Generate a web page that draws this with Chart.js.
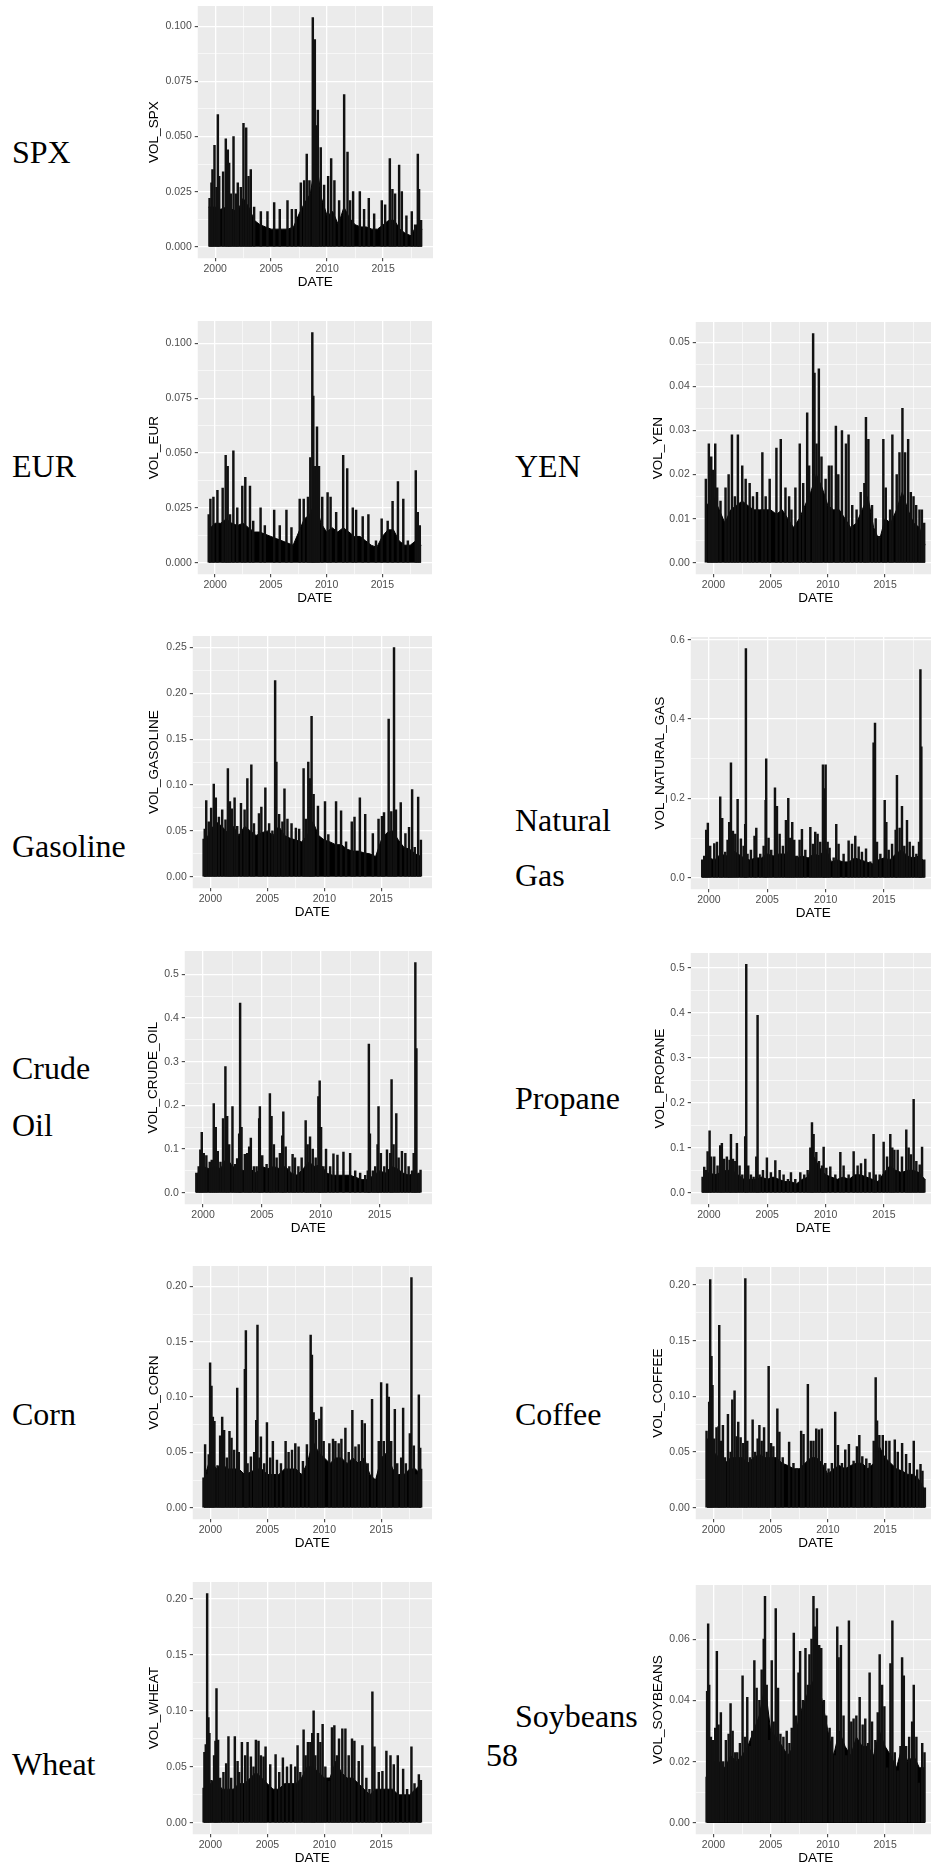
<!DOCTYPE html>
<html>
<head>
<meta charset="utf-8">
<script src="https://cdn.jsdelivr.net/npm/chart.js@4.4.0/dist/chart.umd.min.js"></script>
<style>
html, body { margin:0; padding:0; background:#fff; width:931px; height:1867px; overflow:hidden; }
body { position:relative; }
.lbl { position:absolute; font-family:"Liberation Serif","Times New Roman",serif; font-size:32px; line-height:1; color:#000; white-space:nowrap; }
canvas { position:absolute; }
</style>
</head>
<body>
<script>
var bandYears = [1999.4,2000,2000.5,2001,2001.5,2002,2002.5,2003,2003.5,2004,2004.5,2005,2005.5,2006,2006.5,2007,2007.5,2008,2008.5,2009,2009.5,2010,2010.5,2011,2011.5,2012,2012.5,2013,2013.5,2014,2014.5,2015,2015.5,2016,2016.5,2017,2017.5,2018,2018.5]
var xMajor = [2000,2005,2010,2015]
var xMinor = [2002.5,2007.5,2012.5,2017.5]

var spxBand = [0.018,0.018,0.017,0.018,0.017,0.016,0.022,0.018,0.012,0.010,0.009,0.008,0.008,0.008,0.008,0.009,0.015,0.020,0.024,0.040,0.022,0.014,0.016,0.010,0.018,0.013,0.010,0.009,0.009,0.008,0.008,0.010,0.012,0.012,0.008,0.006,0.005,0.010,0.008]
var spxSpikes = [[1999.5,0.022],[1999.67,0.029],[1999.76,0.035],[1999.94,0.046],[2000.12,0.027],[2000.24,0.060],[2000.36,0.032],[2000.71,0.034],[2000.95,0.049],[2001.13,0.044],[2001.25,0.038],[2001.4,0.024],[2001.64,0.050],[2001.85,0.024],[2002.02,0.029],[2002.29,0.027],[2002.53,0.056],[2002.77,0.054],[2002.98,0.032],[2003.18,0.035],[2003.48,0.018],[2004.08,0.016],[2004.67,0.016],[2005.27,0.020],[2005.77,0.017],[2006.46,0.021],[2006.85,0.017],[2007.2,0.017],[2007.65,0.029],[2007.95,0.030],[2008.18,0.042],[2008.42,0.030],[2008.72,0.104],[2008.9,0.094],[2009.05,0.055],[2009.17,0.062],[2009.43,0.045],[2009.73,0.028],[2010.09,0.032],[2010.36,0.040],[2010.65,0.030],[2011.07,0.021],[2011.52,0.069],[2011.82,0.043],[2012.05,0.021],[2012.32,0.025],[2012.92,0.025],[2013.3,0.017],[2013.72,0.022],[2014.2,0.015],[2014.88,0.021],[2015.18,0.019],[2015.6,0.040],[2015.83,0.026],[2016.07,0.024],[2016.43,0.037],[2016.67,0.025],[2017.08,0.014],[2017.56,0.016],[2017.86,0.010],[2018.1,0.042],[2018.21,0.026],[2018.39,0.012]]
var spxTicks = [0,0.025,0.05,0.075,0.1]

var eurBand = [0.015,0.018,0.018,0.020,0.018,0.017,0.018,0.016,0.014,0.014,0.013,0.012,0.011,0.010,0.009,0.008,0.014,0.020,0.022,0.028,0.018,0.014,0.016,0.014,0.016,0.014,0.012,0.012,0.010,0.008,0.007,0.012,0.015,0.015,0.010,0.008,0.008,0.010,0.008]
var eurSpikes = [[1999.43,0.022],[1999.58,0.029],[1999.85,0.030],[2000.21,0.033],[2000.68,0.034],[2000.95,0.049],[2001.13,0.044],[2001.34,0.022],[2001.64,0.051],[2001.99,0.025],[2002.44,0.035],[2002.71,0.039],[2003.13,0.035],[2003.42,0.019],[2004.08,0.025],[2004.46,0.017],[2005.3,0.024],[2005.8,0.017],[2006.4,0.024],[2006.85,0.016],[2007.59,0.029],[2007.95,0.029],[2008.33,0.030],[2008.54,0.048],[2008.72,0.105],[2008.81,0.076],[2008.96,0.044],[2009.14,0.062],[2009.32,0.044],[2009.61,0.030],[2010.09,0.032],[2010.36,0.030],[2010.86,0.023],[2011.49,0.049],[2011.85,0.043],[2012.35,0.025],[2012.65,0.024],[2013.24,0.021],[2013.75,0.022],[2014.43,0.010],[2014.94,0.020],[2015.48,0.019],[2015.92,0.028],[2016.4,0.037],[2016.88,0.029],[2017.29,0.010],[2018.0,0.042],[2018.18,0.023],[2018.36,0.017]]
var eurTicks = [0,0.025,0.05,0.075,0.1]

var yenBand = [0.013,0.015,0.012,0.009,0.012,0.013,0.014,0.013,0.012,0.012,0.012,0.012,0.011,0.012,0.010,0.008,0.010,0.013,0.016,0.020,0.017,0.013,0.012,0.012,0.010,0.008,0.009,0.012,0.015,0.008,0.005,0.010,0.009,0.012,0.016,0.012,0.009,0.008,0.004]
var yenSpikes = [[1999.33,0.019],[1999.59,0.027],[1999.8,0.024],[1999.94,0.021],[2000.15,0.027],[2000.32,0.017],[2000.61,0.014],[2001.05,0.017],[2001.32,0.020],[2001.61,0.029],[2001.87,0.015],[2002.13,0.029],[2002.51,0.022],[2002.81,0.019],[2003.16,0.018],[2003.45,0.015],[2003.8,0.016],[2004.27,0.025],[2004.56,0.015],[2004.91,0.019],[2005.5,0.026],[2005.88,0.028],[2006.29,0.017],[2006.61,0.015],[2006.81,0.012],[2007.16,0.017],[2007.54,0.027],[2007.84,0.018],[2008.19,0.034],[2008.36,0.022],[2008.71,0.052],[2008.83,0.043],[2009.01,0.027],[2009.21,0.044],[2009.44,0.024],[2009.8,0.019],[2010.09,0.022],[2010.32,0.022],[2010.7,0.031],[2010.91,0.020],[2011.23,0.030],[2011.58,0.027],[2011.81,0.029],[2012.13,0.013],[2012.51,0.012],[2012.87,0.016],[2013.19,0.018],[2013.33,0.033],[2013.54,0.028],[2013.86,0.013],[2014.18,0.010],[2014.47,0.006],[2014.85,0.028],[2015.06,0.017],[2015.44,0.012],[2015.64,0.029],[2016.02,0.020],[2016.26,0.025],[2016.52,0.035],[2016.75,0.025],[2017.02,0.028],[2017.25,0.016],[2017.49,0.015],[2017.72,0.013],[2018.01,0.012],[2018.22,0.012],[2018.42,0.009]]
var yenTicks = [0,0.01,0.02,0.03,0.04,0.05]

var gasolineBand = [0.035,0.050,0.060,0.055,0.048,0.055,0.045,0.055,0.050,0.045,0.048,0.050,0.045,0.055,0.045,0.042,0.040,0.038,0.045,0.060,0.045,0.040,0.038,0.035,0.035,0.030,0.028,0.028,0.026,0.025,0.022,0.040,0.048,0.050,0.040,0.032,0.030,0.025,0.022]
var gasolineSpikes = [[1999.4,0.041],[1999.5,0.052],[1999.63,0.083],[1999.85,0.060],[2000.06,0.075],[2000.29,0.101],[2000.47,0.086],[2000.74,0.065],[2001.03,0.073],[2001.32,0.062],[2001.53,0.118],[2001.71,0.082],[2001.88,0.074],[2002.12,0.086],[2002.35,0.055],[2002.68,0.080],[2003.0,0.073],[2003.24,0.107],[2003.59,0.122],[2003.82,0.058],[2004.26,0.069],[2004.47,0.076],[2004.82,0.097],[2005.15,0.058],[2005.44,0.050],[2005.68,0.214],[2005.79,0.125],[2006.03,0.068],[2006.32,0.060],[2006.5,0.096],[2006.76,0.063],[2007.12,0.058],[2007.5,0.053],[2007.79,0.052],[2008.18,0.118],[2008.38,0.063],[2008.59,0.125],[2008.76,0.107],[2008.88,0.175],[2009.06,0.090],[2009.44,0.077],[2010.06,0.082],[2010.35,0.046],[2011.03,0.082],[2011.47,0.072],[2011.91,0.038],[2012.41,0.060],[2012.65,0.065],[2013.12,0.086],[2013.59,0.068],[2014.26,0.047],[2014.76,0.063],[2015.06,0.066],[2015.24,0.070],[2015.65,0.172],[2015.88,0.071],[2016.12,0.250],[2016.29,0.073],[2016.71,0.081],[2017.12,0.047],[2017.44,0.054],[2017.71,0.095],[2017.94,0.032],[2018.24,0.087],[2018.48,0.040]]
var gasolineTicks = [0,0.05,0.1,0.15,0.2,0.25]

var natgasBand = [0.040,0.050,0.045,0.060,0.055,0.070,0.060,0.050,0.045,0.050,0.050,0.060,0.055,0.060,0.060,0.070,0.050,0.055,0.050,0.060,0.055,0.075,0.040,0.045,0.040,0.040,0.050,0.045,0.040,0.035,0.045,0.050,0.045,0.060,0.070,0.055,0.050,0.055,0.040]
var natgasSpikes = [[1999.43,0.045],[1999.6,0.055],[1999.77,0.120],[1999.91,0.138],[2000.11,0.080],[2000.46,0.086],[2000.69,0.090],[2000.97,0.204],[2001.14,0.150],[2001.4,0.065],[2001.6,0.095],[2001.74,0.140],[2001.89,0.290],[2002.06,0.118],[2002.26,0.110],[2002.46,0.198],[2002.74,0.098],[2002.97,0.080],[2003.11,0.135],[2003.17,0.578],[2003.31,0.060],[2003.6,0.070],[2003.91,0.105],[2004.06,0.125],[2004.4,0.060],[2004.69,0.080],[2004.86,0.195],[2004.91,0.300],[2005.11,0.100],[2005.34,0.070],[2005.66,0.227],[2005.83,0.180],[2006.06,0.110],[2006.34,0.080],[2006.6,0.145],[2006.8,0.200],[2006.97,0.100],[2007.14,0.140],[2007.31,0.095],[2007.54,0.055],[2007.77,0.095],[2007.97,0.122],[2008.26,0.070],[2008.69,0.127],[2008.91,0.085],[2009.11,0.115],[2009.31,0.110],[2009.54,0.090],[2009.77,0.285],[2009.89,0.225],[2010.0,0.285],[2010.17,0.090],[2010.34,0.075],[2010.69,0.050],[2010.91,0.135],[2011.11,0.085],[2011.54,0.060],[2011.97,0.093],[2012.26,0.085],[2012.54,0.105],[2012.83,0.078],[2013.11,0.065],[2013.46,0.073],[2013.83,0.040],[2014.11,0.340],[2014.23,0.390],[2014.4,0.090],[2014.69,0.060],[2015.06,0.195],[2015.2,0.140],[2015.4,0.070],[2015.69,0.085],[2016.0,0.120],[2016.11,0.258],[2016.34,0.125],[2016.54,0.180],[2016.74,0.080],[2016.97,0.145],[2017.2,0.090],[2017.49,0.080],[2017.77,0.060],[2018.0,0.090],[2018.12,0.525],[2018.2,0.330],[2018.45,0.045]]
var natgasTicks = [0,0.2,0.4,0.6]

var crudeBand = [0.040,0.060,0.055,0.060,0.055,0.080,0.060,0.055,0.050,0.055,0.045,0.060,0.055,0.060,0.055,0.060,0.045,0.040,0.055,0.070,0.060,0.065,0.045,0.040,0.040,0.040,0.040,0.035,0.030,0.030,0.040,0.050,0.045,0.060,0.055,0.045,0.040,0.045,0.040]
var crudeSpikes = [[1999.43,0.045],[1999.63,0.060],[1999.77,0.098],[1999.89,0.138],[2000.06,0.090],[2000.28,0.085],[2000.57,0.070],[2000.74,0.075],[2000.91,0.204],[2001.08,0.150],[2001.25,0.095],[2001.48,0.070],[2001.7,0.170],[2001.9,0.289],[2002.05,0.175],[2002.22,0.110],[2002.5,0.197],[2002.73,0.065],[2002.9,0.078],[2003.07,0.135],[2003.15,0.434],[2003.27,0.150],[2003.55,0.088],[2003.75,0.090],[2003.92,0.105],[2004.06,0.125],[2004.32,0.060],[2004.55,0.060],[2004.77,0.170],[2004.83,0.197],[2005.03,0.085],[2005.4,0.065],[2005.68,0.227],[2005.82,0.175],[2006.02,0.110],[2006.25,0.080],[2006.53,0.090],[2006.73,0.130],[2006.82,0.185],[2007.02,0.105],[2007.33,0.060],[2007.61,0.088],[2007.81,0.080],[2008.1,0.060],[2008.38,0.080],[2008.72,0.165],[2008.89,0.110],[2009.09,0.128],[2009.32,0.100],[2009.57,0.080],[2009.8,0.220],[2009.91,0.256],[2010.03,0.150],[2010.23,0.060],[2010.45,0.100],[2010.8,0.060],[2011.08,0.089],[2011.42,0.086],[2011.93,0.093],[2012.5,0.090],[2012.93,0.050],[2013.35,0.045],[2013.78,0.040],[2014.0,0.050],[2014.09,0.340],[2014.18,0.135],[2014.43,0.050],[2014.63,0.060],[2014.83,0.110],[2014.91,0.197],[2015.11,0.090],[2015.4,0.060],[2015.63,0.098],[2015.91,0.090],[2016.02,0.259],[2016.19,0.110],[2016.42,0.181],[2016.62,0.080],[2016.9,0.095],[2017.19,0.090],[2017.47,0.060],[2017.76,0.050],[2017.9,0.090],[2018.04,0.527],[2018.13,0.330],[2018.32,0.045],[2018.48,0.052]]
var crudeTicks = [0,0.1,0.2,0.3,0.4,0.5]

var propaneBand = [0.030,0.045,0.040,0.045,0.050,0.050,0.040,0.030,0.030,0.030,0.035,0.030,0.035,0.030,0.025,0.025,0.020,0.030,0.035,0.080,0.055,0.040,0.035,0.030,0.035,0.030,0.040,0.040,0.035,0.030,0.025,0.045,0.060,0.050,0.045,0.050,0.050,0.045,0.030]
var propaneSpikes = [[1999.46,0.035],[1999.6,0.057],[1999.77,0.050],[1999.89,0.092],[2000.06,0.138],[2000.2,0.080],[2000.46,0.080],[2000.74,0.060],[2000.97,0.105],[2001.11,0.110],[2001.31,0.075],[2001.54,0.080],[2001.77,0.073],[2001.89,0.130],[2002.06,0.075],[2002.26,0.070],[2002.4,0.110],[2002.63,0.060],[2002.86,0.040],[2003.11,0.125],[2003.2,0.508],[2003.37,0.060],[2003.6,0.040],[2003.83,0.035],[2004.06,0.080],[2004.17,0.395],[2004.34,0.040],[2004.63,0.050],[2004.97,0.078],[2005.31,0.045],[2005.69,0.072],[2006.06,0.050],[2006.4,0.040],[2006.77,0.030],[2007.03,0.045],[2007.4,0.030],[2007.83,0.045],[2008.17,0.040],[2008.46,0.050],[2008.69,0.100],[2008.83,0.156],[2008.97,0.130],[2009.2,0.090],[2009.43,0.070],[2009.69,0.060],[2009.83,0.102],[2010.06,0.055],[2010.4,0.058],[2010.83,0.040],[2011.26,0.090],[2011.54,0.060],[2011.97,0.040],[2012.4,0.092],[2012.74,0.060],[2013.03,0.065],[2013.4,0.075],[2013.77,0.045],[2014.11,0.130],[2014.29,0.040],[2014.63,0.040],[2014.97,0.113],[2015.26,0.080],[2015.54,0.130],[2015.71,0.100],[2015.89,0.095],[2016.17,0.095],[2016.54,0.080],[2016.91,0.140],[2017.11,0.100],[2017.31,0.085],[2017.54,0.208],[2017.77,0.070],[2018.06,0.062],[2018.26,0.102],[2018.46,0.030]]
var propaneTicks = [0,0.1,0.2,0.3,0.4,0.5]

var cornBand = [0.025,0.045,0.035,0.040,0.035,0.035,0.035,0.030,0.032,0.035,0.035,0.030,0.030,0.030,0.035,0.035,0.035,0.030,0.040,0.060,0.050,0.045,0.040,0.045,0.045,0.040,0.045,0.040,0.045,0.030,0.025,0.045,0.050,0.035,0.030,0.030,0.035,0.035,0.030]
var cornSpikes = [[1999.39,0.027],[1999.53,0.057],[1999.68,0.030],[1999.85,0.048],[1999.97,0.131],[2000.09,0.110],[2000.21,0.082],[2000.35,0.078],[2000.62,0.038],[2000.85,0.065],[2001.03,0.082],[2001.2,0.070],[2001.44,0.045],[2001.67,0.069],[2001.85,0.063],[2002.08,0.052],[2002.35,0.108],[2002.49,0.050],[2002.7,0.032],[2003.02,0.125],[2003.11,0.160],[2003.26,0.040],[2003.55,0.046],[2003.84,0.050],[2004.02,0.079],[2004.13,0.165],[2004.31,0.045],[2004.43,0.064],[2004.72,0.040],[2004.96,0.077],[2005.25,0.045],[2005.48,0.060],[2005.84,0.043],[2006.19,0.040],[2006.6,0.060],[2006.86,0.050],[2007.16,0.052],[2007.45,0.058],[2007.74,0.055],[2008.12,0.042],[2008.47,0.057],[2008.8,0.156],[2008.91,0.138],[2009.06,0.086],[2009.27,0.079],[2009.56,0.080],[2009.74,0.091],[2009.94,0.060],[2010.44,0.058],[2010.76,0.062],[2010.97,0.060],[2011.26,0.058],[2011.5,0.062],[2011.85,0.072],[2012.14,0.050],[2012.46,0.088],[2012.73,0.055],[2013.02,0.057],[2013.31,0.079],[2013.55,0.076],[2013.81,0.040],[2014.19,0.098],[2014.43,0.025],[2014.78,0.060],[2014.99,0.113],[2015.22,0.060],[2015.51,0.112],[2015.66,0.100],[2015.87,0.060],[2016.19,0.089],[2016.4,0.040],[2016.75,0.045],[2016.92,0.090],[2017.16,0.040],[2017.51,0.067],[2017.65,0.208],[2017.86,0.056],[2018.09,0.030],[2018.3,0.102],[2018.42,0.054],[2018.5,0.035]]
var cornTicks = [0,0.05,0.1,0.15,0.2]

var coffeeBand = [0.045,0.050,0.045,0.040,0.045,0.045,0.045,0.040,0.045,0.048,0.045,0.045,0.045,0.040,0.038,0.035,0.035,0.040,0.045,0.045,0.040,0.030,0.035,0.038,0.035,0.038,0.040,0.040,0.035,0.040,0.055,0.045,0.040,0.035,0.033,0.030,0.030,0.025,0.015]
var coffeeSpikes = [[1999.39,0.069],[1999.53,0.062],[1999.62,0.095],[1999.71,0.205],[1999.82,0.136],[1999.91,0.110],[2000.06,0.062],[2000.26,0.072],[2000.44,0.073],[2000.5,0.164],[2000.64,0.060],[2000.82,0.074],[2000.99,0.045],[2001.26,0.084],[2001.49,0.050],[2001.64,0.097],[2001.84,0.105],[2002.02,0.064],[2002.16,0.077],[2002.37,0.063],[2002.6,0.058],[2002.78,0.206],[2002.95,0.060],[2003.19,0.045],[2003.42,0.079],[2003.63,0.050],[2003.86,0.062],[2004.01,0.074],[2004.21,0.060],[2004.42,0.072],[2004.65,0.050],[2004.82,0.127],[2005.03,0.058],[2005.23,0.055],[2005.58,0.089],[2005.76,0.068],[2006.05,0.045],[2006.61,0.059],[2006.99,0.040],[2007.28,0.035],[2007.66,0.069],[2007.87,0.066],[2008.25,0.111],[2008.51,0.060],[2008.74,0.060],[2008.98,0.071],[2009.21,0.070],[2009.47,0.071],[2009.77,0.040],[2010.06,0.035],[2010.35,0.040],[2010.64,0.086],[2010.88,0.056],[2011.23,0.040],[2011.52,0.052],[2011.84,0.057],[2012.25,0.042],[2012.54,0.055],[2012.75,0.065],[2013.01,0.046],[2013.36,0.044],[2013.65,0.040],[2014.01,0.060],[2014.18,0.117],[2014.3,0.078],[2014.5,0.065],[2014.8,0.065],[2015.09,0.060],[2015.38,0.060],[2015.85,0.061],[2016.11,0.050],[2016.49,0.058],[2016.84,0.048],[2017.16,0.040],[2017.51,0.060],[2017.81,0.034],[2018.1,0.039],[2018.27,0.033],[2018.48,0.018]]
var coffeeTicks = [0,0.05,0.1,0.15,0.2]

var wheatBand = [0.030,0.035,0.040,0.030,0.030,0.030,0.035,0.035,0.040,0.045,0.040,0.035,0.030,0.030,0.035,0.035,0.035,0.040,0.050,0.050,0.045,0.040,0.040,0.055,0.045,0.040,0.040,0.035,0.030,0.025,0.030,0.030,0.030,0.030,0.025,0.025,0.025,0.030,0.035]
var wheatSpikes = [[1999.4,0.031],[1999.47,0.063],[1999.59,0.070],[1999.71,0.205],[1999.82,0.094],[1999.91,0.080],[2000.09,0.038],[2000.32,0.060],[2000.44,0.073],[2000.53,0.120],[2000.67,0.074],[2000.85,0.040],[2001.14,0.045],[2001.38,0.053],[2001.58,0.077],[2001.82,0.040],[2002.14,0.077],[2002.38,0.055],[2002.52,0.045],[2002.76,0.072],[2003.05,0.060],[2003.26,0.072],[2003.55,0.059],[2003.78,0.050],[2003.99,0.074],[2004.22,0.073],[2004.43,0.060],[2004.66,0.059],[2004.84,0.068],[2005.25,0.052],[2005.72,0.061],[2006.04,0.045],[2006.36,0.058],[2006.72,0.050],[2007.07,0.052],[2007.45,0.050],[2007.65,0.069],[2007.89,0.045],[2008.18,0.083],[2008.36,0.060],[2008.56,0.072],[2008.77,0.072],[2008.94,0.080],[2009.06,0.100],[2009.21,0.060],[2009.44,0.080],[2009.65,0.072],[2009.85,0.088],[2010.09,0.050],[2010.41,0.037],[2010.67,0.085],[2010.88,0.087],[2011.11,0.060],[2011.29,0.075],[2011.58,0.084],[2011.85,0.084],[2012.14,0.060],[2012.43,0.075],[2012.64,0.073],[2013.02,0.055],[2013.34,0.069],[2013.69,0.040],[2013.96,0.030],[2014.22,0.117],[2014.4,0.068],[2014.78,0.045],[2015.1,0.046],[2015.45,0.064],[2015.81,0.060],[2016.1,0.052],[2016.45,0.060],[2016.92,0.048],[2017.27,0.030],[2017.65,0.068],[2017.92,0.035],[2018.3,0.043],[2018.48,0.038]]
var wheatTicks = [0,0.05,0.1,0.15,0.2]

var soybeansBand = [0.022,0.020,0.020,0.018,0.022,0.020,0.022,0.025,0.030,0.035,0.045,0.030,0.028,0.025,0.022,0.025,0.035,0.040,0.045,0.048,0.040,0.030,0.022,0.030,0.025,0.022,0.028,0.025,0.025,0.022,0.030,0.025,0.022,0.018,0.025,0.020,0.022,0.018,0.018]
var soybeansSpikes = [[1999.4,0.015],[1999.44,0.043],[1999.53,0.065],[1999.62,0.045],[1999.77,0.028],[1999.97,0.027],[2000.15,0.031],[2000.29,0.056],[2000.44,0.032],[2000.64,0.036],[2000.85,0.020],[2001.08,0.027],[2001.32,0.029],[2001.49,0.039],[2001.67,0.030],[2001.9,0.023],[2002.08,0.023],[2002.31,0.026],[2002.54,0.048],[2002.75,0.028],[2002.95,0.041],[2003.19,0.025],[2003.39,0.030],[2003.57,0.053],[2003.77,0.044],[2004.01,0.040],[2004.21,0.050],[2004.39,0.060],[2004.5,0.074],[2004.65,0.045],[2004.85,0.027],[2005.09,0.053],[2005.26,0.033],[2005.44,0.070],[2005.64,0.044],[2005.85,0.029],[2006.11,0.028],[2006.4,0.030],[2006.64,0.026],[2006.84,0.031],[2007.02,0.062],[2007.22,0.035],[2007.43,0.049],[2007.57,0.056],[2007.81,0.040],[2008.04,0.057],[2008.25,0.045],[2008.39,0.055],[2008.57,0.060],[2008.74,0.074],[2008.89,0.064],[2009.04,0.070],[2009.24,0.058],[2009.42,0.057],[2009.65,0.040],[2009.85,0.035],[2010.15,0.031],[2010.38,0.028],[2010.64,0.022],[2010.82,0.064],[2010.94,0.054],[2011.14,0.058],[2011.37,0.035],[2011.61,0.022],[2011.84,0.066],[2012.05,0.033],[2012.25,0.034],[2012.49,0.035],[2012.78,0.041],[2013.04,0.032],[2013.27,0.034],[2013.51,0.026],[2013.65,0.049],[2013.86,0.033],[2014.15,0.027],[2014.36,0.036],[2014.53,0.055],[2014.74,0.045],[2014.94,0.038],[2015.18,0.018],[2015.47,0.052],[2015.64,0.066],[2015.85,0.023],[2016.11,0.017],[2016.35,0.025],[2016.49,0.054],[2016.64,0.048],[2016.84,0.025],[2017.11,0.028],[2017.37,0.033],[2017.51,0.045],[2017.74,0.028],[2017.95,0.013],[2018.25,0.026],[2018.45,0.023]]
var soybeansTicks = [0,0.02,0.04,0.06]

// panel boxes [left, top, right, bottom] in page pixels, and where the y title sits
var panels = [
  {title:"VOL_SPX", band:spxBand, spikes:spxSpikes, ticks:spxTicks, dec:3, box:[198,6,433,258], tx:155},
  {title:"VOL_EUR", band:eurBand, spikes:eurSpikes, ticks:eurTicks, dec:3, box:[198,321,432,574], tx:155},
  {title:"VOL_YEN", band:yenBand, spikes:yenSpikes, ticks:yenTicks, dec:2, box:[696,322,936,574], tx:659},
  {title:"VOL_GASOLINE", band:gasolineBand, spikes:gasolineSpikes, ticks:gasolineTicks, dec:2, box:[193,636,432,888], tx:155},
  {title:"VOL_NATURAL_GAS", band:natgasBand, spikes:natgasSpikes, ticks:natgasTicks, dec:1, box:[691,637,936,889], tx:661},
  {title:"VOL_CRUDE_OIL", band:crudeBand, spikes:crudeSpikes, ticks:crudeTicks, dec:1, box:[185,951,432,1204], tx:154},
  {title:"VOL_PROPANE", band:propaneBand, spikes:propaneSpikes, ticks:propaneTicks, dec:1, box:[691,953,936,1204], tx:661},
  {title:"VOL_CORN", band:cornBand, spikes:cornSpikes, ticks:cornTicks, dec:2, box:[193,1266,432,1519], tx:155},
  {title:"VOL_COFFEE", band:coffeeBand, spikes:coffeeSpikes, ticks:coffeeTicks, dec:2, box:[696,1267,936,1519], tx:659},
  {title:"VOL_WHEAT", band:wheatBand, spikes:wheatSpikes, ticks:wheatTicks, dec:2, box:[193,1582,432,1834], tx:155},
  {title:"VOL_SOYBEANS", band:soybeansBand, spikes:soybeansSpikes, ticks:soybeansTicks, dec:2, box:[696,1585,936,1834], tx:659}
]

// page labels: text, left, baseline
var labels = [
  ["SPX",12,163],["EUR",12,477],["YEN",515,477],["Gasoline",12,857],["Natural",515,831],["Gas",515,886],
  ["Crude",12,1079],["Oil",12,1136],["Propane",515,1109],["Corn",12,1425],["Coffee",515,1425],
  ["Wheat",12,1775],["Soybeans",515,1727],["58",486,1766]
]

labels.forEach(function(l){
  var d = document.createElement("div")
  d.className = "lbl"
  d.textContent = l[0]
  d.style.left = l[1] + "px"
  d.style.top = (l[2] - 27) + "px"
  document.body.appendChild(d)
})

var TITLE = 13.5
var AXFONT = "Liberation Sans"

// gray ggplot panel behind the grid
var panelBg = {
  id: "panelBg",
  beforeDraw: function(chart){
    var a = chart.chartArea, ctx = chart.ctx
    ctx.save()
    ctx.fillStyle = "#ebebeb"
    ctx.fillRect(a.left, a.top, a.right - a.left, a.bottom - a.top)
    ctx.restore()
  }
}

var xSpan = bandYears[bandYears.length-1] - bandYears[0]
var xMin = bandYears[0] - 0.05*xSpan
var xMax = bandYears[bandYears.length-1] + 0.05*xSpan
var xAll = xMajor.concat(xMinor).sort(function(a,b){return a-b})

function makePanel(p){
  var pl = p.box[0], pt = p.box[1], pr = p.box[2], pb = p.box[3]
  var padTop = 12
  var cl = p.tx - TITLE/2
  var ct = pt - padTop
  var cb = pb + 24 + TITLE/2
  var w = Math.round(pr - cl), h = Math.round(cb - ct)

  var cv = document.createElement("canvas")
  cv.width = w; cv.height = h
  cv.style.left = cl + "px"; cv.style.top = ct + "px"
  cv.style.width = w + "px"; cv.style.height = h + "px"
  document.body.appendChild(cv)

  var peak = Math.max.apply(null, p.spikes.map(function(s){return s[1]}).concat(p.band))
  var yMinor = []
  for (var i = 0; i < p.ticks.length - 1; i++) yMinor.push((p.ticks[i] + p.ticks[i+1]) / 2)
  var yAll = p.ticks.concat(yMinor).sort(function(a,b){return a-b})
  var isMajY = function(v){ return p.ticks.indexOf(v) >= 0 }
  var isMajX = function(v){ return xMajor.indexOf(v) >= 0 }

  new Chart(cv, {
    type: "bar",
    data: {
      datasets: [
        {
          type: "line",
          data: p.band.map(function(v,i){ return {x: bandYears[i], y: v} }),
          borderColor: "#000",
          backgroundColor: "#000",
          borderWidth: 1,
          pointRadius: 0,
          tension: 0,
          fill: "origin",
          order: 2
        },
        {
          type: "bar",
          data: p.spikes.map(function(s){ return {x: s[0], y: s[1]} }),
          backgroundColor: "#111",
          barThickness: 1.8,
          order: 1
        }
      ]
    },
    options: {
      responsive: false,
      animation: false,
      events: [],
      layout: { padding: { top: padTop, left: 0, right: 0, bottom: 0 } },
      plugins: { legend: { display: false }, tooltip: { enabled: false } },
      scales: {
        x: {
          type: "linear",
          min: xMin, max: xMax,
          offset: false,
          afterBuildTicks: function(s){ s.ticks = xAll.map(function(v){ return {value: v} }) },
          afterFit: function(s){ s.height = cb - pb },
          border: { display: false },
          grid: {
            offset: false,
            color: "#fff",
            lineWidth: function(c){ return c.tick && isMajX(c.tick.value) ? 1.3 : 0.6 },
            tickColor: function(c){ return c.tick && isMajX(c.tick.value) ? "#333" : "rgba(0,0,0,0)" },
            tickLength: 3,
            tickWidth: 1
          },
          ticks: {
            autoSkip: false, maxRotation: 0, padding: 2,
            color: "#4d4d4d",
            font: { family: AXFONT, size: 10.5 },
            callback: function(v){ return isMajX(v) ? String(v) : "" }
          },
          title: {
            display: true, text: "DATE", color: "#000",
            font: { family: AXFONT, size: TITLE, lineHeight: 1 },
            padding: { top: 0, bottom: 0 }
          }
        },
        y: {
          type: "linear",
          min: -0.05*peak, max: 1.05*peak,
          afterBuildTicks: function(s){ s.ticks = yAll.map(function(v){ return {value: v} }) },
          afterFit: function(s){ s.width = pl - cl },
          border: { display: false },
          grid: {
            color: "#fff",
            lineWidth: function(c){ return c.tick && isMajY(c.tick.value) ? 1.3 : 0.6 },
            tickColor: function(c){ return c.tick && isMajY(c.tick.value) ? "#333" : "rgba(0,0,0,0)" },
            tickLength: 3,
            tickWidth: 1
          },
          ticks: {
            autoSkip: false, padding: 3,
            color: "#4d4d4d",
            font: { family: AXFONT, size: 10.5 },
            callback: function(v){ return isMajY(v) ? v.toFixed(p.dec) : "" }
          },
          title: {
            display: true, text: p.title, color: "#000",
            font: { family: AXFONT, size: TITLE, lineHeight: 1 },
            padding: { top: 0, bottom: 0 }
          }
        }
      }
    },
    plugins: [panelBg]
  })
}

panels.forEach(makePanel)
</script>
</body>
</html>
